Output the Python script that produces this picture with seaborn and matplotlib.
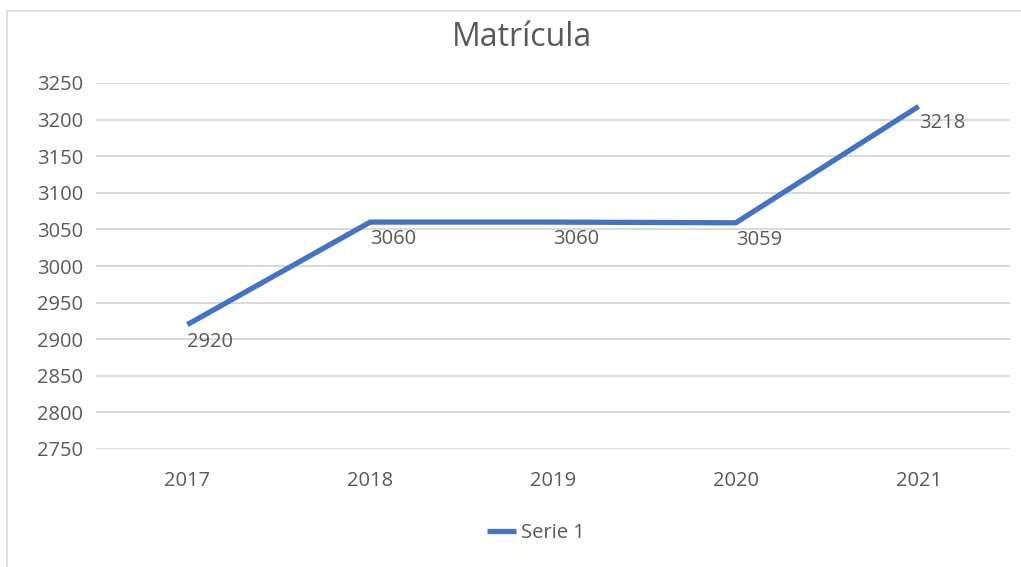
import matplotlib
matplotlib.use("Agg")
import matplotlib.pyplot as plt
import seaborn as sns
import pandas as pd
from matplotlib.patches import Rectangle

# Enrollment per year
years = ["2017", "2018", "2019", "2020", "2021"]
enrollment = [2920, 3060, 3060, 3059, 3218]
series_name = "Serie 1"
y_ticks = [2750, 2800, 2850, 2900, 2950, 3000, 3050, 3100, 3150, 3200, 3250]

TEXT = "#595959"
LINE = "#4472C4"
GRID = "#D9D9D9"
FS = 14.5

sns.set_theme(style="white")
plt.rcParams["font.family"] = ["Open Sans", "DejaVu Sans"]

df = pd.DataFrame({"pos": range(len(years)), "value": enrollment, "series": series_name})

fig = plt.figure(figsize=(10.21, 5.67), dpi=100)
fig.patch.set_facecolor("white")

# chart frame
fig.patches.append(Rectangle((7 / 1021, -0.1), 1.2, 1 - 11 / 567 + 0.1,
                             transform=fig.transFigure, fill=False,
                             edgecolor="#D9D9D9", linewidth=1.2))

ax = fig.add_axes([96 / 1021, 1 - 449 / 567, (1010 - 96) / 1021, (449 - 83) / 567])

sns.lineplot(data=df, x="pos", y="value", hue="series", palette=[LINE],
             linewidth=3.8, ax=ax, legend=False, solid_capstyle="butt")

ax.set_xlim(-0.5, len(years) - 0.5)
ax.set_ylim(y_ticks[0], y_ticks[-1])
ax.set_xticks(range(len(years)))
ax.set_xticklabels(years)
ax.set_yticks(y_ticks)
ax.yaxis.grid(True, color=GRID, linewidth=1.4)
ax.xaxis.grid(False)
ax.set_axisbelow(True)
for s in ax.spines.values():
    s.set_visible(False)
ax.tick_params(axis="y", length=0, pad=9, labelsize=FS, labelcolor=TEXT)
ax.tick_params(axis="x", length=0, pad=16, labelsize=FS, labelcolor=TEXT)
ax.set_xlabel("")
ax.set_ylabel("")

for i, v in enumerate(enrollment):
    ax.annotate(str(v), (i, v), xytext=(0, -5), textcoords="offset points",
                ha="left", va="top", fontsize=FS, color=TEXT)

fig.text(0.511, 1 - 37 / 567, "Matrícula", ha="center", va="center",
         fontsize=23, color=TEXT)

# legend
handle = plt.Line2D([], [], color=LINE, linewidth=3.8, solid_capstyle="butt")
fig.legend([handle], [series_name], loc="center", bbox_to_anchor=(0.525, 1 - 533 / 567),
           frameon=False, fontsize=FS, labelcolor=TEXT, handlelength=1.4,
           handletextpad=0.25)

fig.savefig("out.png", dpi=100, facecolor="white")
